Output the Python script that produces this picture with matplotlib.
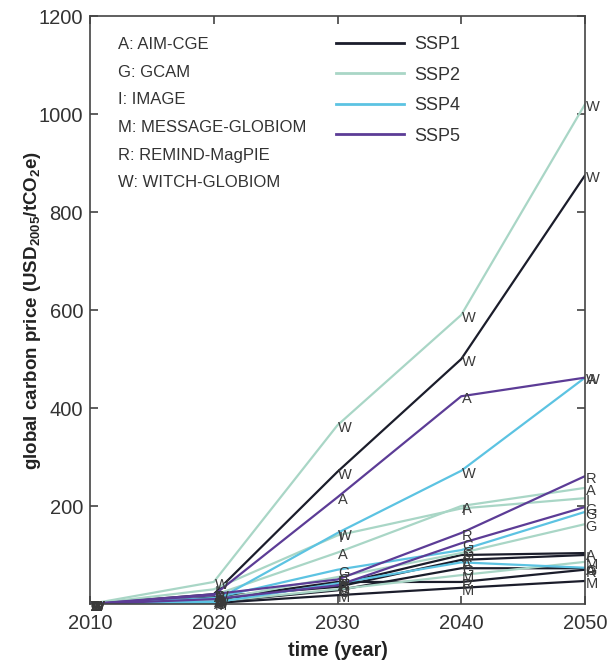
import matplotlib
matplotlib.use("Agg")
import matplotlib.pyplot as plt
from matplotlib.lines import Line2D

# years on the x axis
years = [2010, 2020, 2030, 2040, 2050]

# model key
model_codes = ["A", "G", "I", "M", "R", "W"]
model_names = ["AIM-CGE", "GCAM", "IMAGE", "MESSAGE-GLOBIOM", "REMIND-MagPIE", "WITCH-GLOBIOM"]

# scenarios
ssp_names = ["SSP1", "SSP2", "SSP4", "SSP5"]
ssp_colors = ["#1b1d2b", "#a9d6c6", "#5cc3e2", "#5c3c96"]

# carbon price (USD2005/tCO2e) per model
ssp1 = {
    "W": [0, 20, 270, 500, 875],
    "A": [0, 8, 40, 100, 104],
    "I": [0, 15, 35, 90, 100],
    "G": [0, 4, 28, 73, 73],
    "R": [0, 10, 45, 45, 70],
    "M": [0, 2, 18, 33, 47],
}
ssp2 = {
    "W": [0, 45, 365, 590, 1020],
    "A": [0, 18, 105, 200, 237],
    "I": [0, 30, 140, 195, 216],
    "G": [0, 8, 55, 104, 163],
    "M": [0, 5, 30, 59, 86],
}
ssp4 = {
    "W": [0, 5, 145, 272, 462],
    "G": [0, 12, 70, 110, 188],
    "A": [0, 3, 42, 85, 74],
}
ssp5 = {
    "A": [0, 18, 218, 424, 462],
    "R": [0, 20, 50, 145, 261],
    "G": [0, 10, 38, 124, 198],
}
ssp_data = [ssp1, ssp2, ssp4, ssp5]

font = ["Liberation Sans", "DejaVu Sans"]
plt.rcParams["font.family"] = font
plt.rcParams["mathtext.fontset"] = "custom"
plt.rcParams["mathtext.rm"] = "Liberation Sans"
plt.rcParams["mathtext.bf"] = "Liberation Sans:bold"

fig = plt.figure(figsize=(6.14, 6.62), dpi=100)
ax = fig.add_axes([0.1466, 0.0876, 0.8062, 0.8882])

for data, color in zip(ssp_data, ssp_colors):
    for code, vals in data.items():
        ax.plot(years, vals, color=color, lw=1.6, solid_capstyle="round", zorder=2)
        for x, v in zip(years, vals):
            ax.annotate(code, (x, v), xytext=(0.5, 3), textcoords="offset points",
                        ha="left", va="top", fontsize=10.5, color="#3a3a3a",
                        zorder=3, annotation_clip=False)

ax.set_xlim(2010, 2050)
ax.set_ylim(0, 1200)
ax.set_xticks(years)
ax.set_yticks([200, 400, 600, 800, 1000, 1200])
ax.tick_params(direction="in", length=6, width=1.1, top=True, right=True,
               labelsize=14.5, colors="#333333")
ax.tick_params(axis="y", pad=5)
ax.tick_params(axis="x", pad=7)
for s in ax.spines.values():
    s.set_color("#444444")
    s.set_linewidth(1.2)

ax.set_xlabel("time (year)", fontsize=14.2, fontweight="bold", color="#222222", labelpad=6)
ax.set_ylabel(r"global carbon price (USD$_{\mathbf{2005}}$/tCO$_{\mathbf{2}}$e)",
              fontsize=13.5, fontweight="bold", color="#222222", labelpad=-3)

# model key text
for i, (c, n) in enumerate(zip(model_codes, model_names)):
    ax.text(0.057, 0.951 - i * 0.0469, f"{c}: {n}", transform=ax.transAxes,
            ha="left", va="center", fontsize=12, color="#333333")

handles = [Line2D([0], [0], color=c, lw=2) for c in ssp_colors]
leg = ax.legend(handles, ssp_names, loc="upper left", bbox_to_anchor=(0.497, 0.966),
                frameon=False, fontsize=13, handlelength=3.78, handletextpad=0.55,
                labelspacing=0.75, borderpad=0, borderaxespad=0)
for t in leg.get_texts():
    t.set_color("#333333")

fig.savefig("out.png", dpi=100)
